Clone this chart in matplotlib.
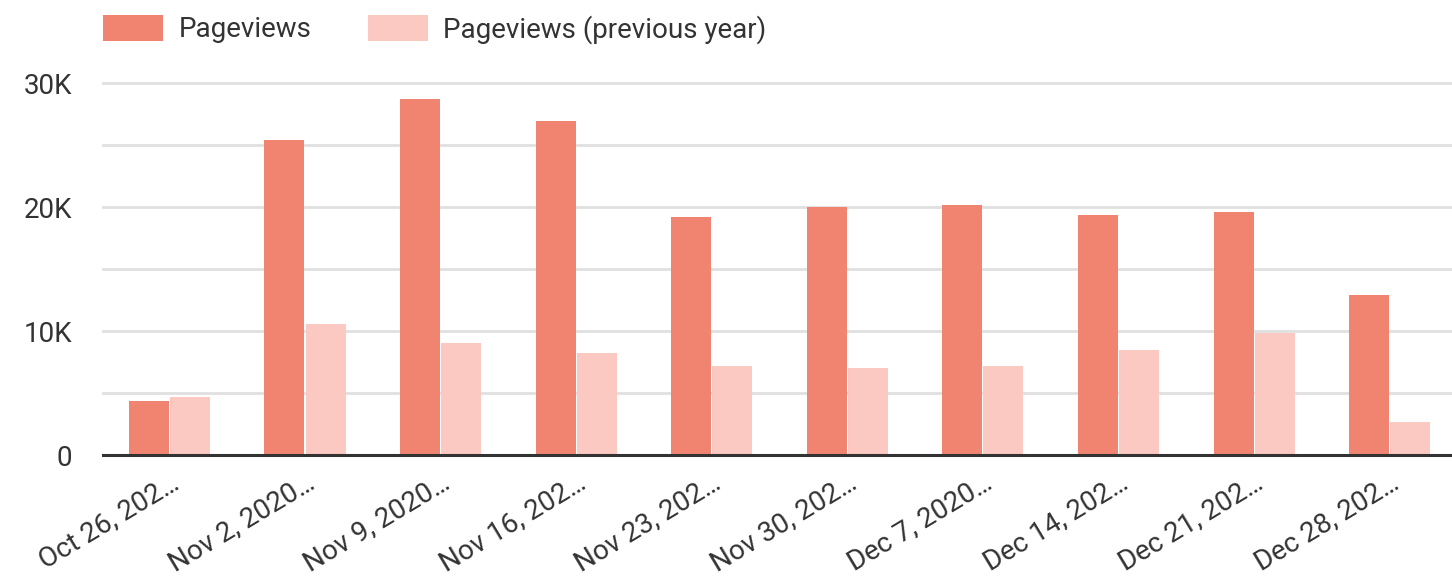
import matplotlib
matplotlib.use("Agg")
import matplotlib.pyplot as plt
import numpy as np
from matplotlib.patches import Patch

categories = ["Oct 26, 202…", "Nov 2, 2020…", "Nov 9, 2020…", "Nov 16, 202…", "Nov 23, 202…",
              "Nov 30, 202…", "Dec 7, 2020…", "Dec 14, 202…", "Dec 21, 202…", "Dec 28, 202…"]
pageviews = [4350, 25400, 28700, 26900, 19200, 20000, 20200, 19350, 19600, 12900]
pageviews_prev = [4700, 10600, 9000, 8200, 7200, 7000, 7200, 8500, 9800, 2700]
y_ticks = [0, 10000, 20000, 30000]
y_tick_labels = ["0", "10K", "20K", "30K"]

plt.rcParams['font.family'] = ['Roboto', 'DejaVu Sans']

c_main = "#f08470"
c_prev = "#fbc9c1"
fs = 20

fig = plt.figure(figsize=(14.52, 5.78), dpi=100)
ax = fig.add_axes([0.0709, 0.2128, 0.9291, 0.6436])

x = np.arange(len(categories))
w = 0.295
ax.bar(x - w / 2 - 0.004, pageviews, width=w, color=c_main, zorder=3)
ax.bar(x + w / 2 + 0.004, pageviews_prev, width=w, color=c_prev, zorder=3)

ax.set_xlim(-0.49, 9.46)
ax.set_ylim(0, 30000)

for v in np.arange(5000, 30001, 5000):
    ax.axhline(v, color="#e0e0e0", lw=2, zorder=1, clip_on=False)
ax.axhline(0, color="#333333", lw=2.2, zorder=4, clip_on=False)

ax.set_yticks(y_ticks)
ax.set_yticklabels(y_tick_labels, fontsize=fs, color="#333333")
ax.set_xticks(x)
ax.set_xticklabels(categories, rotation=31, ha="right", rotation_mode="anchor",
                   fontsize=fs, color="#333333")
ax.tick_params(axis="both", length=0)
ax.tick_params(axis="y", pad=22)
ax.tick_params(axis="x", pad=10)
for s in ax.spines.values():
    s.set_visible(False)

handles = [Patch(facecolor=c_main, edgecolor="none"), Patch(facecolor=c_prev, edgecolor="none")]
leg = fig.legend(handles, ["Pageviews", "Pageviews (previous year)"], loc="upper left",
                 bbox_to_anchor=(103 / 1452, 1 - 15 / 578), ncol=2, frameon=False, fontsize=fs,
                 handlelength=2.16, handleheight=1.05, handletextpad=0.55, columnspacing=2.05,
                 borderpad=0, borderaxespad=0)
for t in leg.get_texts():
    t.set_color("#333333")

fig.savefig("out.png", dpi=100, facecolor="white")
